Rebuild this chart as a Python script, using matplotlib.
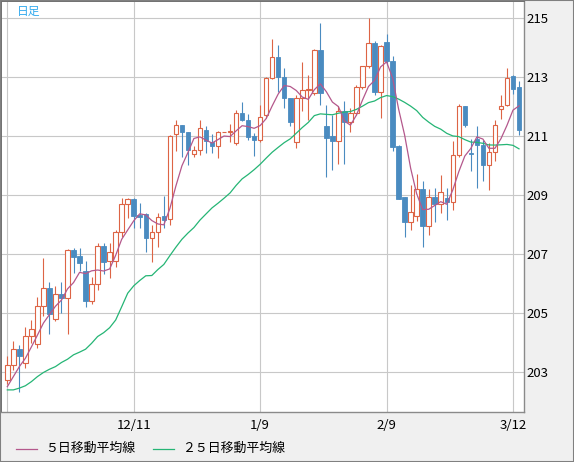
import numpy as np
import pandas as pd
import matplotlib
matplotlib.use("Agg")
import matplotlib.pyplot as plt
from matplotlib.lines import Line2D
from matplotlib.patches import Rectangle

plt.rcParams['font.family'] = ['Noto Sans CJK JP', 'DejaVu Sans']

# -------------------------------
# Data (daily OHLC)
# -------------------------------
opens = [202.73, 203.23, 203.78, 203.29, 204.21, 203.96, 205.23, 205.84, 204.79, 205.63,
         205.50, 207.13, 206.93, 206.42, 205.42, 205.97, 207.27, 206.77, 206.77, 207.74,
         208.68, 208.85, 208.32, 208.36, 207.55, 207.73, 208.29, 208.18, 211.07, 211.37,
         211.15, 210.39, 210.54, 211.21, 210.80, 210.65, 211.13, 211.12, 210.76, 211.78,
         211.55, 210.99, 210.88, 211.72, 212.97, 213.68, 212.99, 212.29, 210.79, 212.29,
         212.55, 212.46, 213.93, 211.35, 210.99, 210.82, 211.84, 211.46, 211.78, 212.66,
         213.36, 214.15, 212.48, 214.19, 213.55, 210.65, 208.92, 208.07, 208.28, 209.20,
         207.94, 208.93, 208.71, 208.90, 208.76, 210.37, 212.03, 210.42, 210.90, 210.71,
         210.01, 210.46, 211.92, 212.05, 213.05, 212.66]
highs = [203.54, 204.05, 203.92, 204.51, 204.76, 205.55, 206.86, 206.05, 205.92, 206.06,
         207.16, 207.19, 207.19, 206.76, 206.23, 207.36, 207.36, 207.36, 207.81, 208.89,
         208.91, 208.89, 208.72, 208.38, 207.98, 208.38, 208.97, 211.03, 211.56, 211.37,
         211.15, 210.65, 211.53, 211.35, 211.08, 211.16, 211.14, 211.40, 211.89, 212.16,
         211.76, 211.10, 212.06, 212.99, 214.30, 214.10, 213.30, 212.29, 212.40, 213.50,
         213.08, 213.95, 214.83, 212.06, 211.72, 212.03, 212.18, 211.95, 212.74, 213.38,
         215.00, 214.23, 214.10, 214.46, 213.72, 210.68, 208.92, 209.35, 209.71, 209.46,
         209.20, 209.24, 209.67, 209.24, 210.84, 212.08, 212.03, 210.90, 211.35, 210.88,
         210.76, 211.55, 212.40, 213.31, 213.08, 212.85]
lows = [202.59, 203.07, 202.33, 203.12, 203.97, 203.80, 204.90, 204.28, 204.72, 204.99,
        204.30, 206.35, 206.43, 205.19, 205.31, 205.78, 206.31, 206.18, 206.57, 207.59,
        208.21, 207.89, 207.87, 207.08, 206.74, 207.25, 207.87, 207.98, 210.50, 210.28,
        210.02, 210.29, 210.37, 210.42, 210.42, 210.25, 211.13, 210.80, 210.70, 211.50,
        210.88, 210.31, 210.80, 211.61, 212.95, 212.51, 211.95, 211.35, 210.59, 211.86,
        211.55, 212.40, 212.06, 209.60, 209.84, 210.06, 210.05, 211.12, 211.72, 212.60,
        213.30, 212.40, 211.61, 213.40, 210.48, 208.85, 207.56, 207.82, 208.11, 207.23,
        207.66, 208.07, 208.39, 208.16, 208.48, 210.30, 211.30, 209.80, 209.24, 209.46,
        209.16, 210.14, 211.58, 212.01, 212.42, 211.05]
closes = [203.24, 203.78, 203.55, 204.21, 204.46, 205.23, 205.84, 204.98, 205.63, 205.50,
          207.13, 206.91, 206.71, 205.42, 205.97, 207.27, 206.74, 207.06, 207.74, 208.68,
          208.85, 208.30, 208.24, 207.55, 207.73, 208.27, 208.15, 211.00, 211.37, 211.15,
          210.53, 210.54, 211.27, 210.82, 210.65, 211.12, 211.14, 211.18, 211.78, 211.53,
          210.97, 210.85, 211.64, 212.97, 213.68, 212.99, 212.29, 211.47, 212.29, 212.57,
          212.60, 213.93, 212.46, 210.95, 210.82, 211.84, 211.46, 211.78, 212.66, 213.36,
          214.15, 212.48, 214.06, 213.53, 210.62, 208.88, 208.07, 208.44, 209.20, 207.94,
          208.93, 208.71, 209.09, 208.76, 210.37, 212.03, 211.36, 210.38, 210.71, 210.01,
          210.46, 211.36, 212.01, 212.97, 212.59, 211.19]

# moving average values before enough visible closes exist
ma5_head = [202.50, 202.84, 203.18, 203.46]
ma25_head = [202.39, 202.39, 202.45, 202.53, 202.67, 202.84, 202.98, 203.09, 203.18, 203.32,
             203.43, 203.58, 203.67, 203.77, 203.97, 204.20, 204.33, 204.50, 204.76, 205.21,
             205.67, 205.92, 206.10, 206.26]

tick_pos = [0, 21, 42, 63, 84]
tick_labels = ["", "12/11", "1/9", "2/9", "3/12"]
y_ticks = [203, 205, 207, 209, 211, 213, 215]

# -------------------------------
# Derived series
# -------------------------------
df = pd.DataFrame({"open": opens, "high": highs, "low": lows, "close": closes})
ma5 = df["close"].rolling(5).mean().to_numpy()
ma5[:len(ma5_head)] = ma5_head
ma25 = df["close"].rolling(25).mean().to_numpy()
ma25[:len(ma25_head)] = ma25_head
x = np.arange(len(df))

RED = "#dd6445"
BLUE = "#4a8bc0"
MA5_C = "#b4588c"
MA25_C = "#25b575"

# -------------------------------
# Figure
# -------------------------------
W, H = 574, 462
fig = plt.figure(figsize=(W / 100, H / 100), dpi=100)
fig.patch.set_facecolor("#f0f0f0")
ax = fig.add_axes([1 / W, 1 - 412 / H, 523 / W, 411 / H])
ax.set_facecolor("white")

up = df["close"] >= df["open"]
dn = ~up

# wicks
ax.vlines(x[up], df["low"][up], df["high"][up], color=RED, lw=0.8, zorder=2)
ax.vlines(x[dn], df["low"][dn], df["high"][dn], color=BLUE, lw=0.8, zorder=2)

# bodies
bw = 0.75
body_up = (df["close"] - df["open"])[up]
ax.bar(x[up], body_up.clip(lower=0.015), bottom=df["open"][up], width=bw,
       facecolor="white", edgecolor=RED, linewidth=0.8, zorder=3)
body_dn = (df["open"] - df["close"])[dn]
ax.bar(x[dn], body_dn.clip(lower=0.015), bottom=df["close"][dn], width=bw,
       facecolor=BLUE, edgecolor=BLUE, linewidth=0.6, zorder=3)

# moving averages
ax.plot(x, ma25, color=MA25_C, lw=0.9, zorder=4)
ax.plot(x, ma5, color=MA5_C, lw=0.9, zorder=4)

ax.set_xlim(-1.05, 85.83)
ax.set_ylim(201.64, 215.58)

ax.set_xticks(tick_pos)
ax.set_xticklabels(tick_labels)
ax.set_yticks(y_ticks)
ax.yaxis.tick_right()
ax.tick_params(axis="y", length=0, pad=2, labelsize=9.5, colors="black")
ax.tick_params(axis="x", length=0, pad=5, labelsize=9.5, colors="black")
ax.grid(True, color="#c8c8c8", lw=0.8)
ax.set_axisbelow(True)

for side in ["top", "left"]:
    ax.spines[side].set_color("#707070")
    ax.spines[side].set_linewidth(1.4)
for side in ["right", "bottom"]:
    ax.spines[side].set_color("#8a8a8a")
    ax.spines[side].set_linewidth(1.0)

# label top-left
fig.text(17 / W, 1 - 11 / H, "日足", color="#33aaee", fontsize=8.5, va="center", ha="left")

# legend
ly = 1 - 448.5 / H
fig.add_artist(Line2D([16 / W, 37 / W], [ly, ly], color=MA5_C, lw=0.9))
fig.text(45 / W, ly, "５日移動平均線", fontsize=9.3, va="center", ha="left")
fig.add_artist(Line2D([153 / W, 174 / W], [ly, ly], color=MA25_C, lw=0.9))
fig.text(182 / W, ly, "２５日移動平均線", fontsize=9.3, va="center", ha="left")

# outer frame
fig.add_artist(Rectangle((0, 0), 1, 1, transform=fig.transFigure, fill=False,
                         edgecolor="#808080", lw=1.5))

fig.savefig("out.png", dpi=100)
